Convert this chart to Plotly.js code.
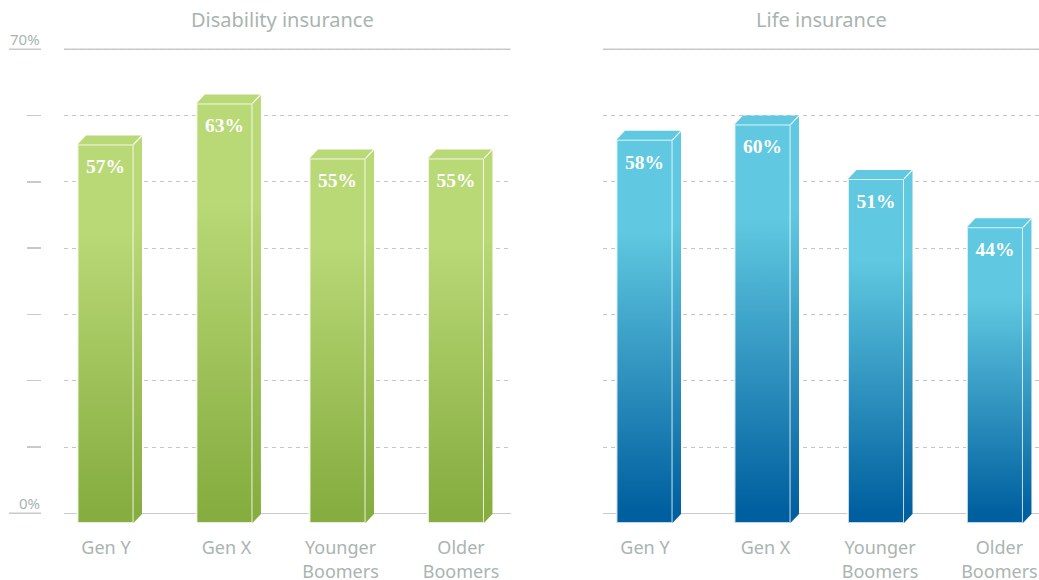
<!DOCTYPE html>
<html><head><meta charset="utf-8">
<script src="https://cdn.plot.ly/plotly-3.0.1.min.js"></script>
<style>html,body{margin:0;padding:0;background:#fff}#chart{width:1039px;height:580px}</style>
</head><body><div id="chart"></div>
<script>
// ---- data ----
const categories = ['Gen Y', 'Gen X', 'Younger<br>Boomers', 'Older<br>Boomers'];
const panelTitles = ['Disability insurance', 'Life insurance'];
const disabilityHeights = [57.1, 63.3, 55.0, 55.0];
const lifeHeights = [57.8, 60.1, 51.9, 44.6];
const disabilityLabels = ['57%', '63%', '55%', '55%'];
const lifeLabels = ['58%', '60%', '51%', '44%'];
const gridValues = [0, 10, 20, 30, 40, 50, 60, 70];
const barSlotsLeft = [0, 1.008, 1.966, 2.970];
const barSlotsRight = [0, 1.0, 1.962, 2.970];
const tickSlotsLeft = [0.004, 1.025, 1.992, 3.013];
const tickSlotsRight = [0.004, 1.025, 1.996, 3.008];

// ---- geometry and style ----
const W = 1039, H = 580, PXY = 6.63, PXX = 118;
const yTopPx = 42.67, yBotPx = 526.56;
const barBase = -1.46, barWidth = 56 / PXX, dx = 8.5 / PXX, dy = 9 / PXY;
const greens = {top: '#B9D876', bottom: '#85AD3F', edge: 'rgba(255,255,255,0.8)'};
const blues = {top: '#60C8E0', bottom: '#005F9F', edge: 'rgba(255,255,255,0.75)'};
const LIGHT_UNTIL = 0.24, DARK_FROM = 0.97;
const grey = '#A9B4B0', lineGrey = '#C6CBC9', dashGrey = '#C4C6C5';
const labelFont = 'Noto Sans, Open Sans, sans-serif';

function panelTraces(heights, labels, slots, pal, xa, ya, name) {
  const out = [{
    type: 'bar', name, x: slots, y: heights, base: barBase, width: barWidth,
    xaxis: xa, yaxis: ya, hoverinfo: 'skip',
    marker: {color: pal.top, line: {color: pal.edge, width: 2}}
  }];
  const diagX = [], diagY = [];
  heights.forEach((h, i) => {
    const xr = slots[i] + barWidth / 2, xl = slots[i] - barWidth / 2, top = barBase + h;
    out.push({
      type: 'scatter', mode: 'lines', xaxis: xa, yaxis: ya, hoverinfo: 'skip', line: {width: 0},
      x: [xr, xr + dx, xr + dx, xr, xr], y: [barBase, barBase + dy, top + dy, top, barBase],
      fill: 'toself', fillcolor: pal.top, meta: 'side'
    });
    out.push({
      type: 'scatter', mode: 'lines', xaxis: xa, yaxis: ya, hoverinfo: 'skip', line: {width: 0},
      x: [xl, xl + dx, xr + dx, xr, xl], y: [top, top + dy, top + dy, top, top],
      fill: 'toself', fillcolor: pal.top
    });
    diagX.push(xr, xr + dx, null); diagY.push(top, top + dy, null);
  });
  out.push({type: 'scatter', mode: 'lines', xaxis: xa, yaxis: ya, hoverinfo: 'skip',
    x: diagX, y: diagY, line: {color: 'rgba(255,255,255,0.9)', width: 1.2}});
  out.push({type: 'scatter', mode: 'text', xaxis: xa, yaxis: ya, hoverinfo: 'skip',
    x: slots, y: heights.map(h => barBase + h - 3.6), text: labels, textposition: 'middle center',
    textfont: {family: 'Liberation Serif, serif', size: 19.5, color: '#fff', weight: 700}});
  return out;
}

const traces = [
  ...panelTraces(disabilityHeights, disabilityLabels, barSlotsLeft, greens, 'x', 'y', 'Disability insurance'),
  ...panelTraces(lifeHeights, lifeLabels, barSlotsRight, blues, 'x2', 'y2', 'Life insurance')
];

const xBase = (l, r, ticks) => ({
  domain: [l / W, r / W], range: [-41.5 / PXX, (r - l - 41.5) / PXX], fixedrange: true,
  showgrid: false, zeroline: false, showline: false,
  tickmode: 'array', tickvals: ticks, ticktext: categories, tickangle: 0,
  ticks: 'outside', ticklen: 5, tickcolor: 'rgba(0,0,0,0)',
  tickfont: {family: labelFont, size: 18, color: grey}
});
const yBase = extra => Object.assign({
  domain: [1 - yBotPx / H, 1 - yTopPx / H], range: [-2, 71], fixedrange: true,
  tickmode: 'array', tickvals: gridValues, showticklabels: false,
  showgrid: true, gridcolor: dashGrey, gridwidth: 1, griddash: '4px,4px',
  zeroline: true, zerolinecolor: lineGrey, zerolinewidth: 1.5, showline: false
}, extra);

const solidLine = (xref, x0, x1, yref, y) => ({type: 'line', xref, yref, x0, x1, y0: y, y1: y, layer: 'below',
  line: {color: lineGrey, width: 1.5}});

const layout = {
  width: W, height: H, margin: {l: 0, r: 0, t: 0, b: 0}, showlegend: false,
  paper_bgcolor: '#fff', plot_bgcolor: 'rgba(0,0,0,0)', barmode: 'overlay',
  xaxis: xBase(64, 510.6, tickSlotsLeft),
  xaxis2: xBase(603, 1039, tickSlotsRight),
  yaxis: yBase({anchor: 'free', position: 41 / W, ticks: 'outside', ticklen: 14, tickcolor: lineGrey, tickwidth: 1.5}),
  yaxis2: yBase({anchor: 'x2', ticks: ''}),
  shapes: [
    solidLine('paper', 64 / W, 510.6 / W, 'y', 70),
    solidLine('paper', 603 / W, 1, 'y', 70),
    solidLine('paper', 9 / W, 41 / W, 'y', 70),
    solidLine('paper', 9 / W, 41 / W, 'y', 0)
  ],
  annotations: [
    {text: panelTitles[0], xref: 'paper', yref: 'paper', x: 282.5 / W, y: 1 - 20 / H, showarrow: false, xanchor: 'center', yanchor: 'middle', font: {family: labelFont, size: 20, color: grey}},
    {text: panelTitles[1], xref: 'paper', yref: 'paper', x: 821.5 / W, y: 1 - 20 / H, showarrow: false, xanchor: 'center', yanchor: 'middle', font: {family: labelFont, size: 20, color: grey}},
    {text: '70%', xref: 'paper', yref: 'y', x: 41 / W, y: 70, xshift: 1, yshift: -2, showarrow: false, xanchor: 'right', yanchor: 'bottom', font: {family: labelFont, size: 15, color: grey}},
    {text: '0%', xref: 'paper', yref: 'y', x: 41 / W, y: 0, xshift: 1, yshift: -2, showarrow: false, xanchor: 'right', yanchor: 'bottom', font: {family: labelFont, size: 15, color: grey}}
  ]
};

function applyGradients(gd) {
  const svg = gd.querySelector('.main-svg');
  const NS = 'http://www.w3.org/2000/svg';
  let defs = svg.querySelector('defs');
  [['frontGreen', greens, '.xy'], ['frontBlue', blues, '.x2y2']].forEach(([id, pal, sel]) => {
    const g = document.createElementNS(NS, 'linearGradient');
    g.setAttribute('id', id);
    g.setAttribute('x1', 0); g.setAttribute('y1', 0); g.setAttribute('x2', 0); g.setAttribute('y2', 1);
    [[0, pal.top], [LIGHT_UNTIL, pal.top], [DARK_FROM, pal.bottom], [1, pal.bottom]].forEach(([o, c]) => {
      const s = document.createElementNS(NS, 'stop');
      s.setAttribute('offset', o); s.setAttribute('stop-color', c); g.appendChild(s);
    });
    defs.appendChild(g);
    const url = 'url(#' + id + ')';
    gd.querySelectorAll('.cartesianlayer .subplot' + sel + ' .bars .point path').forEach(p => { p.style.fill = url; });
    gd.querySelectorAll('.cartesianlayer .subplot' + sel + ' .scatterlayer .trace').forEach(t => {
      const d = t.__data__ && t.__data__[0];
      if (d && d.trace && d.trace.meta === 'side') {
        t.querySelectorAll('path.js-fill').forEach(p => { p.style.fill = url; });
      }
    });
  });
}

Plotly.newPlot('chart', traces, layout, {staticPlot: true, displayModeBar: false}).then(applyGradients);
</script></body></html>
